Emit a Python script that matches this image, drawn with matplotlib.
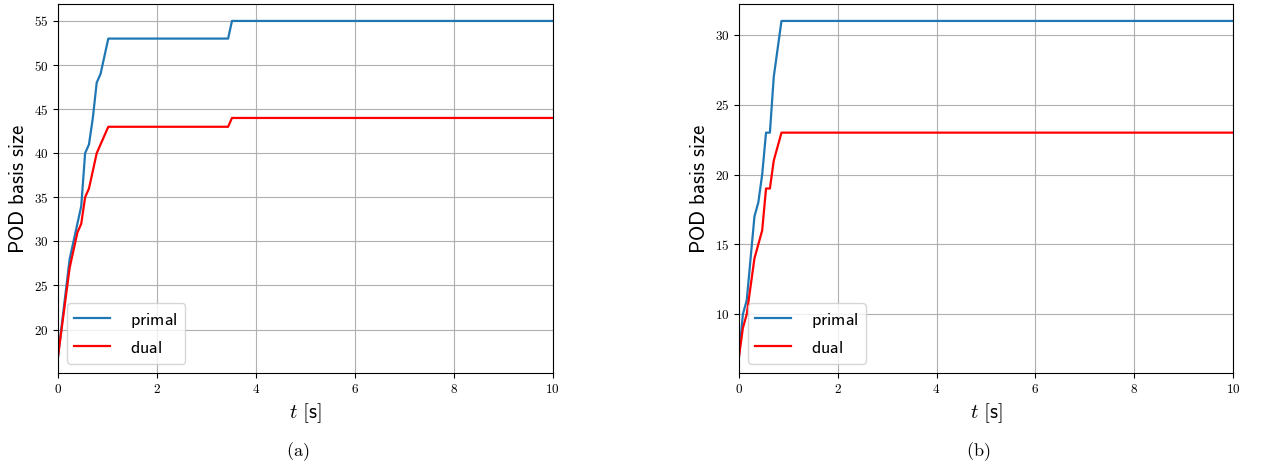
import numpy as np
import matplotlib
matplotlib.use('Agg')
import matplotlib.pyplot as plt
from matplotlib.ticker import FuncFormatter, MultipleLocator

plt.rcParams['mathtext.fontset'] = 'cm'

# time step of the run: 10 s / 128 steps, values read at the kinks of each curve
dt = 10.0 / 128

# panel (a)
t_primal_a = np.array([0, 3, 4, 6, 7, 8, 9, 10, 11, 13, 44, 45, 128]) * dt
primal_a = [17, 28, 30, 34, 40, 41, 44, 48, 49, 53, 53, 55, 55]
t_dual_a = np.array([0, 3, 5, 6, 7, 8, 10, 13, 44, 45, 128]) * dt
dual_a = [17, 27, 31, 32, 35, 36, 40, 43, 43, 44, 44]

# panel (b)
t_primal_b = np.array([0, 1, 2, 4, 5, 6, 7, 8, 9, 11, 128]) * dt
primal_b = [7, 10, 11, 17, 18, 20, 23, 23, 27, 31, 31]
t_dual_b = np.array([0, 1, 2, 4, 6, 7, 8, 9, 11, 128]) * dt
dual_b = [7, 9, 10, 14, 16, 19, 19, 21, 23, 23]

panels = [
    ('(a)', t_primal_a, primal_a, t_dual_a, dual_a),
    ('(b)', t_primal_b, primal_b, t_dual_b, dual_b),
]

fig = plt.figure(figsize=(12.62, 4.66), dpi=100)
boxes = [[0.046, 0.200, 0.392, 0.791], [0.5856, 0.200, 0.3914, 0.791]]
cm_fmt = FuncFormatter(lambda v, p: r'$%d$' % round(v))

for box, (cap, tp, yp, td, yd) in zip(boxes, panels):
    ax = fig.add_axes(box)
    ax.plot(tp, yp, color='#1f77b4', lw=1.6, label=r'$\mathsf{primal}$')
    ax.plot(td, yd, color='red', lw=1.6, label=r'$\mathsf{dual}$')
    ax.set_xlim(0, 10)
    ax.xaxis.set_major_locator(MultipleLocator(2))
    ax.yaxis.set_major_locator(MultipleLocator(5))
    ax.xaxis.set_major_formatter(cm_fmt)
    ax.yaxis.set_major_formatter(cm_fmt)
    ax.tick_params(labelsize=9.5)
    ax.grid(True, color='#b0b0b0', lw=0.8)
    ax.set_axisbelow(True)
    ax.set_ylabel(r'$\mathsf{POD\ basis\ size}$', fontsize=15)
    ax.set_xlabel(r'$t\ [\mathsf{s}]$', fontsize=15)
    ax.legend(loc='lower left', fontsize=13, handletextpad=1.1)
    cx = box[0] + box[2] / 2 - 0.006
    fig.text(cx, 0.03, r'$\mathrm{%s}$' % cap, ha='center', va='center', fontsize=13)

fig.savefig('out.png', dpi=100)
